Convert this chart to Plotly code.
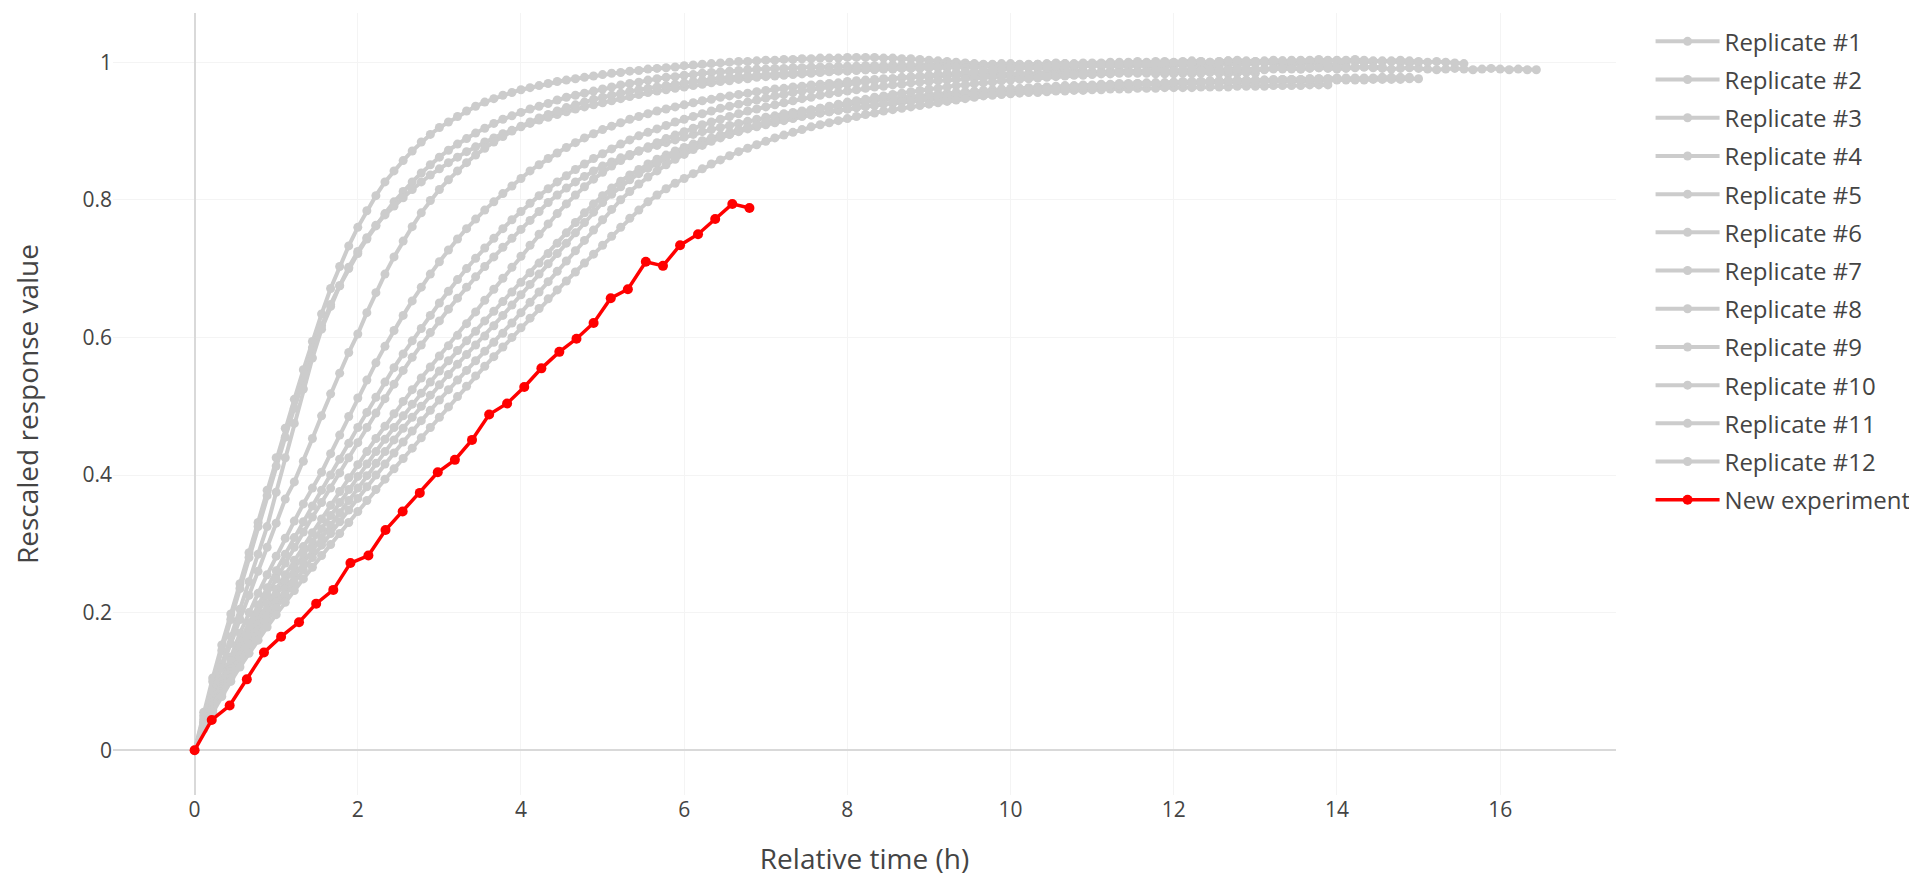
import plotly.graph_objects as go

TIME_H = [
    0.0, 0.111, 0.222, 0.333, 0.444, 0.556, 0.667, 0.778, 0.889,
    1.0, 1.111, 1.222, 1.333, 1.444, 1.556, 1.667, 1.778, 1.889,
    2.0, 2.111, 2.222, 2.333, 2.444, 2.556, 2.667, 2.778, 2.889,
    3.0, 3.111, 3.222, 3.333, 3.444, 3.556, 3.667, 3.778, 3.889,
    4.0, 4.111, 4.222, 4.333, 4.444, 4.556, 4.667, 4.778, 4.889,
    5.0, 5.111, 5.222, 5.333, 5.444, 5.556, 5.667, 5.778, 5.889,
    6.0, 6.111, 6.222, 6.333, 6.444, 6.556, 6.667, 6.778, 6.889,
    7.0, 7.111, 7.222, 7.333, 7.444, 7.556, 7.667, 7.778, 7.889,
    8.0, 8.111, 8.222, 8.333, 8.444, 8.556, 8.667, 8.778, 8.889,
    9.0, 9.111, 9.222, 9.333, 9.444, 9.556, 9.667, 9.778, 9.889,
    10.0, 10.111, 10.222, 10.333, 10.444, 10.556, 10.667, 10.778, 10.889,
    11.0, 11.111, 11.222, 11.333, 11.444, 11.556, 11.667, 11.778, 11.889,
    12.0, 12.111, 12.222, 12.333, 12.444, 12.556, 12.667, 12.778, 12.889,
    13.0, 13.111, 13.222, 13.333, 13.444, 13.556, 13.667, 13.778, 13.889,
    14.0, 14.111, 14.222, 14.333, 14.444, 14.556, 14.667, 14.778, 14.889,
    15.0, 15.111, 15.222, 15.333, 15.444, 15.556, 15.667, 15.778, 15.889,
    16.0, 16.111, 16.222, 16.333, 16.444,
]

REP_01 = [
    0, 0.055, 0.105, 0.153, 0.198, 0.242, 0.287, 0.331, 0.378, 0.425,
    0.468, 0.510, 0.553, 0.594, 0.634, 0.671, 0.703, 0.733, 0.760, 0.784,
    0.806, 0.826, 0.842, 0.857, 0.871, 0.884, 0.895, 0.905, 0.913, 0.921,
    0.929, 0.936, 0.942, 0.947, 0.952, 0.956, 0.960, 0.963, 0.966, 0.969,
    0.972, 0.974, 0.976, 0.978, 0.980, 0.982, 0.984, 0.985, 0.987, 0.988,
    0.990, 0.991, 0.992, 0.993, 0.995, 0.996, 0.997, 0.998, 0.999, 1.000,
    1.001, 1.001, 1.002, 1.003, 1.003, 1.004, 1.004, 1.005, 1.005, 1.006,
    1.006, 1.006, 1.007, 1.007, 1.007, 1.007, 1.006, 1.006, 1.005, 1.005,
    1.004, 1.003, 1.002, 1.001, 1.000, 0.999, 0.998, 0.997, 0.996, 0.995,
    0.994, 0.993, 0.992, 0.991, 0.990, 0.989, 0.988, 0.988, 0.987, 0.986,
    0.986, 0.985, 0.985, 0.984, 0.984, 0.984, 0.983, 0.983, 0.983, 0.984,
    0.983, 0.984, 0.985, 0.984, 0.983, 0.984, 0.985, 0.984,
]

REP_02 = [
    0, 0.050, 0.100, 0.145, 0.190, 0.235, 0.280, 0.325, 0.370, 0.413,
    0.455, 0.497, 0.537, 0.585, 0.617, 0.648, 0.675, 0.700, 0.722, 0.743,
    0.762, 0.780, 0.797, 0.812, 0.826, 0.839, 0.851, 0.862, 0.872, 0.881,
    0.889, 0.897, 0.904, 0.911, 0.917, 0.922, 0.927, 0.932, 0.936, 0.940,
    0.945, 0.949, 0.952, 0.955, 0.958, 0.961, 0.964, 0.967, 0.969, 0.971,
    0.974, 0.976, 0.978, 0.979, 0.981, 0.982, 0.984, 0.985, 0.986, 0.987,
    0.988, 0.989, 0.990, 0.990, 0.991, 0.991, 0.992, 0.992, 0.993, 0.993,
    0.993, 0.994, 0.994, 0.994, 0.995, 0.995, 0.995, 0.996, 0.996, 0.996,
    0.996, 0.997,
    0.997, 0.996, 0.997, 0.998, 0.997, 0.996, 0.997, 0.998, 0.998, 0.997,
    0.996, 0.997, 0.998, 0.999, 0.998, 0.997, 0.996, 0.997, 0.998, 0.999,
    0.998, 0.997, 0.997, 0.998, 0.999, 1.000, 0.999, 0.998, 0.997, 0.998,
    0.999, 0.998, 0.997, 0.996, 0.997, 0.998, 0.999, 0.998, 0.997, 0.996,
    0.997, 0.998, 0.997, 0.996, 0.997, 0.998,
]

REP_03 = [
    0, 0.040, 0.085, 0.125, 0.165, 0.205, 0.245, 0.285, 0.325, 0.375,
    0.425, 0.475, 0.525, 0.570, 0.612, 0.645, 0.675, 0.702, 0.725, 0.745,
    0.763, 0.778, 0.791, 0.803, 0.815, 0.826, 0.836, 0.845, 0.854, 0.862,
    0.870, 0.877, 0.884, 0.890, 0.896, 0.901, 0.906, 0.911, 0.916, 0.920,
    0.924, 0.928, 0.932, 0.935, 0.938, 0.941, 0.944, 0.947, 0.950, 0.953,
    0.956, 0.958, 0.960, 0.962, 0.964, 0.966, 0.968, 0.970, 0.972, 0.973,
    0.975, 0.976, 0.978, 0.979, 0.980, 0.981, 0.982, 0.983, 0.984, 0.985,
    0.986, 0.987, 0.987, 0.988, 0.989, 0.989, 0.990, 0.990, 0.991, 0.991,
    0.992, 0.992, 0.993, 0.993, 0.994, 0.994, 0.995, 0.995, 0.995, 0.996,
    0.996, 0.996, 0.997, 0.997, 0.997, 0.998, 0.998, 0.998, 0.999, 0.999,
    0.999, 1.000, 1.000, 1.000, 1.001, 1.000, 1.001, 1.001, 1.000,
    1.001, 1.002, 1.001, 1.000, 1.001, 1.002, 1.003, 1.002, 1.001, 1.000,
    1.001, 1.002, 1.003, 1.003, 1.002, 1.001, 1.002, 1.003, 1.002, 1.001,
    1.000, 1.001, 1.002, 1.001, 1.000, 0.999, 1.000,
]

REP_04 = [
    0, 0.045, 0.085, 0.120, 0.155, 0.190, 0.225, 0.260, 0.295, 0.330,
    0.365, 0.390, 0.420, 0.453, 0.486, 0.518, 0.548, 0.578, 0.605, 0.636,
    0.665, 0.692, 0.717, 0.740, 0.761, 0.781, 0.799, 0.815, 0.829, 0.842,
    0.854, 0.865, 0.875, 0.884, 0.892, 0.900, 0.907, 0.913, 0.919, 0.924,
    0.929, 0.934, 0.938, 0.942, 0.946, 0.949, 0.952, 0.955, 0.958, 0.960,
    0.962, 0.964, 0.966, 0.968, 0.970, 0.972, 0.974, 0.975, 0.977, 0.978,
    0.979, 0.980, 0.981, 0.982, 0.983, 0.984, 0.985, 0.985, 0.986, 0.987,
    0.987, 0.988, 0.988,
    0.989, 0.989, 0.990, 0.990, 0.990, 0.991, 0.991, 0.991, 0.992, 0.992,
    0.992, 0.993, 0.992, 0.993, 0.993, 0.994, 0.993, 0.993, 0.994, 0.994,
    0.993, 0.994, 0.995, 0.994, 0.993, 0.994, 0.995, 0.994, 0.994, 0.993,
    0.994, 0.995, 0.994, 0.993, 0.994, 0.995, 0.996, 0.995, 0.994, 0.993,
    0.994,
]

REP_05 = [
    0, 0.040, 0.075, 0.105, 0.135, 0.170, 0.200, 0.228, 0.255, 0.282,
    0.308, 0.333, 0.358, 0.381, 0.404, 0.431, 0.458, 0.485, 0.512, 0.538,
    0.563, 0.587, 0.610, 0.632, 0.653, 0.673, 0.692, 0.710, 0.727, 0.743,
    0.758, 0.772, 0.785, 0.797, 0.809, 0.820, 0.831, 0.842, 0.851, 0.860,
    0.868, 0.876, 0.883, 0.890, 0.896, 0.902, 0.907, 0.912, 0.917, 0.921,
    0.925, 0.929, 0.932, 0.935, 0.938, 0.941, 0.944, 0.946, 0.949, 0.951,
    0.953, 0.955, 0.957, 0.959, 0.961, 0.962, 0.964, 0.965, 0.967, 0.968,
    0.969, 0.970, 0.972, 0.973, 0.974, 0.975, 0.976, 0.976, 0.977, 0.978,
    0.979, 0.979, 0.980, 0.980, 0.981, 0.981, 0.982, 0.982, 0.983, 0.983,
    0.983, 0.984, 0.984, 0.984, 0.985, 0.985, 0.985, 0.985, 0.986, 0.986,
    0.986, 0.987, 0.987, 0.988, 0.987, 0.988, 0.989, 0.988, 0.988, 0.989,
    0.990, 0.989, 0.988, 0.989, 0.990, 0.991, 0.990, 0.989, 0.990, 0.991,
    0.992, 0.991, 0.990, 0.991, 0.992, 0.991, 0.990, 0.991, 0.992, 0.993,
    0.992, 0.991, 0.990, 0.991, 0.992, 0.991, 0.990, 0.989, 0.990, 0.991,
    0.990, 0.989, 0.990, 0.991, 0.990, 0.989, 0.990, 0.989, 0.989,
]

REP_06 = [
    0, 0.040, 0.070, 0.100, 0.130, 0.158, 0.185, 0.211, 0.236, 0.261,
    0.285, 0.309, 0.332, 0.355, 0.378, 0.400, 0.423, 0.446, 0.469, 0.491,
    0.513, 0.535, 0.556, 0.576, 0.595, 0.613, 0.632, 0.650, 0.667, 0.684,
    0.700, 0.715, 0.730, 0.744, 0.758, 0.771, 0.783, 0.795, 0.806, 0.816,
    0.826, 0.835, 0.844, 0.852, 0.860, 0.867, 0.874, 0.881, 0.887, 0.893,
    0.898, 0.903, 0.908, 0.913, 0.917, 0.921, 0.925, 0.929, 0.933, 0.936,
    0.939, 0.942, 0.945, 0.948, 0.951, 0.953, 0.956, 0.958, 0.960, 0.962,
    0.964, 0.966, 0.968, 0.970, 0.972, 0.973, 0.975, 0.976, 0.978, 0.979,
    0.980, 0.981, 0.983, 0.984, 0.985, 0.986, 0.987, 0.988, 0.989, 0.989,
    0.990, 0.991, 0.992, 0.992, 0.993, 0.994, 0.994, 0.995, 0.995, 0.996,
    0.996, 0.997, 0.997, 0.998, 0.998, 0.998, 0.999, 0.999, 0.999,
    1.000, 1.000, 1.001, 1.000, 1.001, 1.002, 1.001, 1.000, 1.001, 1.002,
    1.003, 1.002, 1.001, 1.002, 1.003, 1.004, 1.003, 1.002, 1.003, 1.004,
    1.003, 1.002, 1.001, 1.002, 1.003, 1.002, 1.001, 1.000, 1.001, 1.000,
    0.999, 0.998,
]

REP_07 = [
    0, 0.035, 0.065, 0.095, 0.123, 0.150, 0.176, 0.201, 0.225, 0.249,
    0.272, 0.295, 0.317, 0.339, 0.360, 0.381, 0.403, 0.425, 0.447, 0.469,
    0.490, 0.511, 0.532, 0.552, 0.571, 0.589, 0.607, 0.624, 0.641, 0.657,
    0.673, 0.688, 0.703, 0.717, 0.731, 0.744, 0.757, 0.770, 0.783, 0.796,
    0.807, 0.817, 0.826, 0.834, 0.842, 0.849, 0.855, 0.861, 0.866, 0.871,
    0.875, 0.879, 0.883, 0.887, 0.891, 0.895, 0.899, 0.902, 0.905, 0.908,
    0.911, 0.914, 0.917, 0.920, 0.922, 0.925, 0.927, 0.929, 0.931, 0.933,
    0.935, 0.937, 0.939, 0.941, 0.943, 0.944, 0.946, 0.947, 0.949, 0.950,
    0.951, 0.953, 0.954, 0.955, 0.956, 0.957, 0.958, 0.959, 0.960, 0.961,
    0.962, 0.962, 0.963, 0.964, 0.964, 0.965, 0.966, 0.966, 0.967, 0.967,
    0.968, 0.968, 0.969, 0.969, 0.969, 0.970, 0.970, 0.970, 0.971,
    0.971, 0.971, 0.972, 0.972, 0.972, 0.973, 0.973, 0.973, 0.974, 0.974,
    0.974, 0.975, 0.975, 0.975, 0.976, 0.976, 0.976, 0.977,
]

REP_08 = [
    0, 0.035, 0.065, 0.092, 0.118, 0.143, 0.167, 0.190, 0.212, 0.234,
    0.255, 0.276, 0.296, 0.316, 0.336, 0.356, 0.376, 0.396, 0.415, 0.434,
    0.453, 0.471, 0.489, 0.507, 0.524, 0.541, 0.557, 0.573, 0.588, 0.603,
    0.620, 0.637, 0.654, 0.670, 0.686, 0.702, 0.718, 0.734, 0.750, 0.765,
    0.780, 0.794, 0.807, 0.819, 0.830, 0.840, 0.849, 0.857, 0.864, 0.871,
    0.877, 0.883, 0.889, 0.894, 0.899, 0.904, 0.909, 0.913, 0.917, 0.921,
    0.925, 0.929, 0.932, 0.935, 0.938, 0.941, 0.944, 0.947, 0.949, 0.952,
    0.954, 0.956, 0.958, 0.960, 0.962, 0.964, 0.965, 0.967, 0.968, 0.970,
    0.971, 0.972, 0.973, 0.974, 0.975, 0.976, 0.977, 0.978, 0.978, 0.979,
    0.980, 0.980, 0.981, 0.981, 0.982, 0.982, 0.983, 0.983, 0.983, 0.984,
    0.984, 0.984, 0.985, 0.985, 0.985, 0.986, 0.986, 0.986, 0.987, 0.987,
    0.987, 0.988, 0.988, 0.988, 0.988, 0.989, 0.989, 0.989, 0.989, 0.990,
    0.990, 0.990, 0.990,
]

REP_09 = [
    0, 0.035, 0.063, 0.089, 0.114, 0.138, 0.161, 0.183, 0.204, 0.225,
    0.245, 0.265, 0.284, 0.303, 0.322, 0.341, 0.360, 0.379, 0.398, 0.416,
    0.434, 0.452, 0.469, 0.486, 0.503, 0.519, 0.535, 0.551, 0.566, 0.581,
    0.595, 0.609, 0.624, 0.638, 0.652, 0.666, 0.680, 0.694, 0.708, 0.722,
    0.737, 0.752, 0.767, 0.781, 0.794, 0.806, 0.817, 0.827, 0.836, 0.844,
    0.852, 0.859, 0.865, 0.871, 0.876, 0.881, 0.886, 0.890, 0.894, 0.898,
    0.902, 0.905, 0.908, 0.911, 0.914, 0.917, 0.919, 0.922, 0.924, 0.926,
    0.928, 0.930, 0.932, 0.934, 0.936, 0.937, 0.939, 0.940, 0.942, 0.943,
    0.944, 0.945, 0.947, 0.948, 0.949, 0.950, 0.951, 0.952, 0.953, 0.953,
    0.954, 0.955, 0.956, 0.956, 0.957, 0.958, 0.958, 0.959, 0.959, 0.960,
    0.960, 0.961, 0.961, 0.961, 0.962, 0.962, 0.962, 0.963, 0.963, 0.963,
    0.963, 0.964, 0.964, 0.964, 0.964, 0.965, 0.965, 0.965, 0.965, 0.966,
    0.966, 0.966, 0.966, 0.967, 0.967, 0.967,
]

REP_10 = [
    0, 0.033, 0.060, 0.085, 0.109, 0.132, 0.154, 0.175, 0.195, 0.215,
    0.234, 0.253, 0.272, 0.291, 0.309, 0.327, 0.345, 0.363, 0.381, 0.399,
    0.417, 0.434, 0.451, 0.468, 0.484, 0.500, 0.516, 0.531, 0.546, 0.561,
    0.575, 0.589, 0.602, 0.617, 0.632, 0.647, 0.662, 0.677, 0.692, 0.707,
    0.722, 0.737, 0.752, 0.767, 0.782, 0.796, 0.808, 0.819, 0.829, 0.838,
    0.846, 0.853, 0.860, 0.866, 0.872, 0.877, 0.882, 0.887, 0.891, 0.895,
    0.899, 0.903, 0.906, 0.909, 0.912, 0.915, 0.918, 0.921, 0.923, 0.926,
    0.928, 0.930, 0.932, 0.934, 0.936, 0.938, 0.940, 0.942, 0.943, 0.945,
    0.946, 0.948, 0.949, 0.950, 0.951, 0.953, 0.954, 0.955, 0.956, 0.957,
    0.958, 0.959, 0.960, 0.960, 0.961, 0.962, 0.963, 0.963, 0.964, 0.965,
    0.965, 0.966, 0.966, 0.967, 0.967, 0.968, 0.968, 0.968, 0.969,
    0.969, 0.969, 0.970, 0.970, 0.970, 0.971, 0.971, 0.971, 0.971, 0.972,
    0.972, 0.972, 0.972, 0.973, 0.973, 0.973, 0.973, 0.974, 0.974, 0.974,
    0.974, 0.975, 0.975, 0.975, 0.975, 0.976, 0.976,
]

REP_11 = [
    0, 0.032, 0.058, 0.082, 0.105, 0.127, 0.148, 0.168, 0.188, 0.207,
    0.226, 0.244, 0.262, 0.280, 0.298, 0.315, 0.332, 0.349, 0.366, 0.383,
    0.400, 0.416, 0.432, 0.448, 0.464, 0.479, 0.494, 0.509, 0.524, 0.538,
    0.552, 0.566, 0.580, 0.593, 0.606, 0.621, 0.636, 0.651, 0.666, 0.681,
    0.696, 0.711, 0.726, 0.741, 0.756, 0.771, 0.786, 0.800, 0.812, 0.823,
    0.833, 0.842, 0.851, 0.859, 0.866, 0.873, 0.879, 0.885, 0.890, 0.895,
    0.900, 0.905, 0.909, 0.913, 0.917, 0.921, 0.924, 0.927, 0.930, 0.933,
    0.936, 0.939, 0.942, 0.944, 0.946, 0.949, 0.951, 0.953, 0.955, 0.957,
    0.959, 0.961, 0.962, 0.964, 0.966, 0.967, 0.969, 0.970, 0.971, 0.973,
    0.974, 0.975, 0.976, 0.977, 0.978, 0.979, 0.980, 0.981, 0.981, 0.982,
    0.983, 0.983, 0.984, 0.985, 0.985, 0.986, 0.986, 0.987, 0.987,
    0.988, 0.988, 0.988, 0.989, 0.989, 0.989, 0.990, 0.990, 0.990, 0.990,
    0.991, 0.991, 0.991, 0.991, 0.992, 0.992, 0.992, 0.992, 0.992, 0.993,
    0.993, 0.993, 0.993,
]

REP_12 = [
    0, 0.030, 0.055, 0.078, 0.100, 0.121, 0.141, 0.160, 0.179, 0.197,
    0.215, 0.232, 0.249, 0.266, 0.283, 0.299, 0.315, 0.331, 0.347, 0.363,
    0.379, 0.394, 0.409, 0.424, 0.439, 0.454, 0.469, 0.484, 0.499, 0.514,
    0.529, 0.544, 0.558, 0.572, 0.586, 0.600, 0.614, 0.628, 0.642, 0.656,
    0.669, 0.682, 0.695, 0.708, 0.721, 0.734, 0.747, 0.760, 0.773, 0.785,
    0.797, 0.807, 0.816, 0.824, 0.831, 0.838, 0.845, 0.852, 0.858, 0.864,
    0.870, 0.875, 0.880, 0.885, 0.890, 0.894, 0.898, 0.902, 0.906, 0.909,
    0.912, 0.915, 0.918, 0.921, 0.924, 0.926, 0.929, 0.931, 0.933, 0.935,
    0.937, 0.939, 0.941, 0.943, 0.945, 0.947, 0.949, 0.951, 0.952, 0.954,
    0.955, 0.957, 0.958, 0.959, 0.960, 0.961, 0.962, 0.963, 0.964, 0.965,
    0.966, 0.967, 0.967, 0.968, 0.969, 0.969, 0.970, 0.970, 0.971,
    0.972, 0.972, 0.972, 0.973, 0.973, 0.973, 0.974, 0.974, 0.974, 0.974,
    0.975, 0.975, 0.975, 0.975, 0.976, 0.976, 0.976, 0.976, 0.977, 0.977,
    0.977, 0.977, 0.978, 0.978, 0.978, 0.978,
]

NEW_TIME_H = [
    0.0, 0.21, 0.43, 0.64, 0.85, 1.06, 1.28, 1.49, 1.70, 1.91,
    2.13, 2.34, 2.55, 2.76, 2.98, 3.19, 3.40, 3.61, 3.83, 4.04,
    4.25, 4.47, 4.68, 4.89, 5.10, 5.31, 5.53, 5.74, 5.95, 6.17,
    6.38, 6.59, 6.80,
]
NEW_VALUES = [
    0.0, 0.044, 0.065, 0.103, 0.142, 0.165, 0.186, 0.213, 0.233, 0.272,
    0.283, 0.320, 0.347, 0.374, 0.404, 0.422, 0.451, 0.488, 0.504, 0.528,
    0.555, 0.579, 0.598, 0.621, 0.657, 0.670, 0.710, 0.704, 0.734, 0.750,
    0.772, 0.794, 0.788,
]

REPLICATES = [REP_01, REP_02, REP_03, REP_04, REP_05, REP_06,
              REP_07, REP_08, REP_09, REP_10, REP_11, REP_12]
REP_NAMES = ["Replicate #%d" % (i + 1) for i in range(len(REPLICATES))]

GRAY = "#cccccc"
RED = "#ff0000"
FONT = '"Open Sans", verdana, arial, sans-serif'

fig = go.Figure()
for i, (name, vals) in enumerate(zip(REP_NAMES, REPLICATES)):
    fig.add_trace(go.Scatter(
        x=TIME_H[:len(vals)], y=vals, name=name, mode="lines+markers",
        legendgroup="g%d" % i,
        line=dict(color=GRAY, width=4),
        marker=dict(color=GRAY, size=9),
    ))
fig.add_trace(go.Scatter(
    x=NEW_TIME_H, y=NEW_VALUES, name="New experiment", mode="lines+markers",
    legendgroup="new",
    line=dict(color=RED, width=3.5),
    marker=dict(color=RED, size=10),
))

fig.update_layout(
    width=1909, height=869,
    margin=dict(l=105, r=301, t=5, b=82, pad=0, autoexpand=False),
    paper_bgcolor="white", plot_bgcolor="white",
    font=dict(family=FONT, size=21, color="#444"),
    showlegend=True,
    legend=dict(x=1.023, y=0.992, xanchor="left", yanchor="top",
                font=dict(size=24, color="#444"), itemwidth=64,
                tracegroupgap=4),
    xaxis=dict(
        title=dict(text="Relative time (h)", font=dict(size=28, color="#444"),
                   standoff=30),
        automargin=False,
        range=[-1.0, 17.42], tickmode="array",
        tickvals=[0, 2, 4, 6, 8, 10, 12, 14, 16],
        tickfont=dict(size=21, color="#444"),
        showgrid=True, gridcolor="#f4f4f4", gridwidth=1,
        zeroline=True, zerolinecolor="#d9d9d9", zerolinewidth=2,
        showline=False, ticks="",
    ),
    yaxis=dict(
        title=dict(text="Rescaled response value", font=dict(size=28, color="#444"),
                   standoff=35),
        automargin=False,
        range=[-0.0651, 1.0715], tickmode="array",
        tickvals=[0, 0.2, 0.4, 0.6, 0.8, 1],
        tickfont=dict(size=21, color="#444"),
        showgrid=True, gridcolor="#f4f4f4", gridwidth=1,
        zeroline=True, zerolinecolor="#d9d9d9", zerolinewidth=2,
        showline=False, ticks="",
    ),
)

fig.write_html("out.html")
